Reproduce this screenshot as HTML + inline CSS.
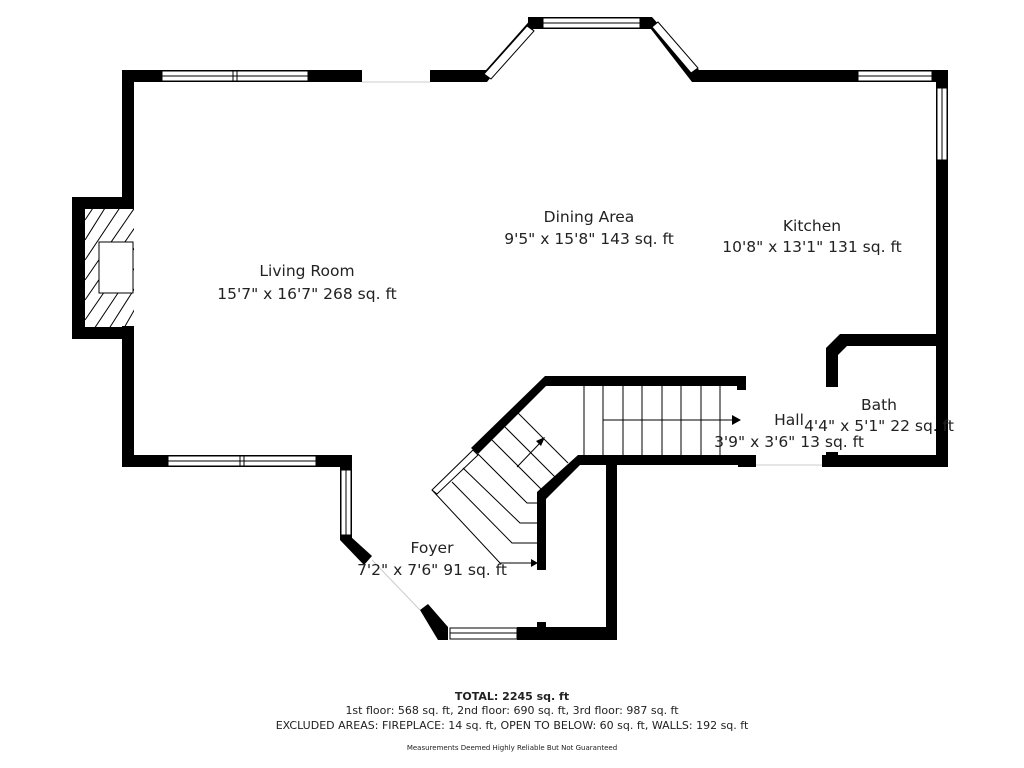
<!DOCTYPE html>
<html><head><meta charset="utf-8"><style>
body{margin:0;background:#fff;width:1024px;height:768px;overflow:hidden}
svg{display:block}
text{font-family:"DejaVu Sans","Liberation Sans",sans-serif;fill:#222}
</style></head><body>
<svg width="1024" height="768" viewBox="0 0 1024 768" xmlns="http://www.w3.org/2000/svg">
<g fill="#000">
<rect x="122" y="70" width="12" height="128"/>
<rect x="122" y="326" width="12" height="141"/>
<rect x="122" y="70" width="240" height="12"/>
<rect x="430" y="70" width="56" height="12"/>
<rect x="697" y="70" width="251" height="12"/>
<rect x="528" y="17" width="124" height="12"/>
<polygon points="480,82 486,70 533,17 538,24 491,77 487,82"/>
<polygon points="647,24 652,17 699,70 697,82 692,82"/>
<rect x="936" y="70" width="12" height="397"/>
<rect x="847" y="334" width="99" height="12"/>
<polygon points="847,334 847,346 838,355 826,355 826,348 840,334"/>
<rect x="826" y="350" width="12" height="37"/>
<rect x="826" y="452" width="12" height="15"/>
<rect x="822" y="455" width="126" height="12"/>
<rect x="738" y="455" width="18" height="12"/>
<rect x="545" y="376" width="201" height="10"/>
<rect x="737" y="376" width="9" height="14"/>
<polygon points="545,376 550,382 478,454 471,448"/>
<rect x="578" y="455" width="178" height="10"/>
<polygon points="578,455 584,461 546,499 537,495 537,492"/>
<rect x="537" y="492" width="9" height="78"/>
<rect x="537" y="622" width="9" height="18"/>
<rect x="606" y="460" width="11" height="180"/>
<rect x="517" y="627" width="100" height="13"/>
<rect x="122" y="455" width="230" height="12"/>
<rect x="340" y="455" width="12" height="85"/>
<polygon points="340,540 350,536 372,556 364,565"/>
<polygon points="420,610 428,604 448,627 448,640 438,640"/>
<rect x="72" y="197" width="62" height="12"/>
<rect x="72" y="327" width="62" height="12"/>
<rect x="72" y="197" width="13" height="142"/>
</g>
<defs><clipPath id="fc"><rect x="85" y="209" width="49" height="118"/></clipPath></defs>
<g clip-path="url(#fc)" stroke="#000" stroke-width="1">
<line x1="85" y1="240" x2="110" y2="200"/><line x1="85" y1="260" x2="125" y2="200"/>
<line x1="85" y1="280" x2="140" y2="200"/><line x1="85" y1="300" x2="140" y2="220"/>
<line x1="85" y1="320" x2="140" y2="240"/><line x1="90" y1="335" x2="140" y2="260"/>
<line x1="105" y1="335" x2="140" y2="280"/><line x1="120" y1="335" x2="140" y2="300"/>
<line x1="85" y1="220" x2="95" y2="205"/>
</g>
<rect x="99" y="242" width="34" height="51" fill="#fff" stroke="#000"/>
<g fill="#fff" stroke="#000" stroke-width="1">
<rect x="162" y="71" width="146" height="10"/><line x1="162" y1="76" x2="308" y2="76"/><line x1="233" y1="71" x2="233" y2="81"/><line x1="237" y1="71" x2="237" y2="81"/>
<rect x="543" y="18" width="97" height="10"/><line x1="543" y1="23" x2="640" y2="23"/>
<rect x="858" y="71" width="74" height="10"/><line x1="858" y1="76" x2="932" y2="76"/>
<rect x="937" y="88" width="10" height="72"/><line x1="942" y1="88" x2="942" y2="160"/>
<rect x="168" y="456" width="148" height="10"/><line x1="168" y1="461" x2="316" y2="461"/><line x1="240" y1="456" x2="240" y2="466"/><line x1="244" y1="456" x2="244" y2="466"/>
<rect x="341" y="470" width="10" height="65"/><line x1="346" y1="470" x2="346" y2="535"/>
<rect x="450" y="628" width="67" height="11"/><line x1="450" y1="633" x2="517" y2="633"/>
<polygon points="484,74 527,26 534,31 491,79"/>
<polygon points="652,27 658,22 698,68 691,73"/>
<polygon points="473,450 478,455 437,494 432,490"/>
</g>
<g stroke="#ccc" stroke-width="1">
<line x1="362" y1="82" x2="430" y2="82"/>
<line x1="372" y1="560" x2="420" y2="610"/>
<line x1="756" y1="465" x2="822" y2="465"/>
</g>
<g stroke="#000" stroke-width="1" fill="none">
<line x1="584" y1="386" x2="584" y2="455"/>
<line x1="603" y1="386" x2="603" y2="455"/><line x1="623" y1="386" x2="623" y2="455"/>
<line x1="642" y1="386" x2="642" y2="455"/><line x1="662" y1="386" x2="662" y2="455"/>
<line x1="681" y1="386" x2="681" y2="455"/><line x1="701" y1="386" x2="701" y2="455"/>
<line x1="720" y1="386" x2="720" y2="455"/>
<line x1="603" y1="420" x2="732" y2="420"/>
<line x1="518" y1="413" x2="568" y2="463"/>
<line x1="505" y1="427" x2="555" y2="477"/>
<line x1="492" y1="440" x2="542" y2="490"/>
<polyline points="478,454 527,503 537,503"/>
<polyline points="463,468 520,523 537,523"/>
<polyline points="452,482 512,543 537,543"/>
<polyline points="432,490 500,563 532,563"/>
<line x1="517" y1="467" x2="540" y2="443"/>
</g>
<polygon points="732,415 741,420 732,425" fill="#000"/>
<polygon points="536,441 545,437 541,446" fill="#000"/>
<polygon points="531,559 538,563 531,567" fill="#000"/>
<g font-size="15.5" text-anchor="middle">
<text x="307" y="276">Living Room</text>
<text x="307" y="299">15'7" x 16'7" 268 sq. ft</text>
<text x="589" y="222">Dining Area</text>
<text x="589" y="244">9'5" x 15'8" 143 sq. ft</text>
<text x="812" y="231">Kitchen</text>
<text x="812" y="252">10'8" x 13'1" 131 sq. ft</text>
<text x="789" y="425">Hall</text>
<text x="789" y="447">3'9" x 3'6" 13 sq. ft</text>
<text x="879" y="410">Bath</text>
<text x="879" y="431">4'4" x 5'1" 22 sq. ft</text>
<text x="432" y="553">Foyer</text>
<text x="432" y="575">7'2" x 7'6" 91 sq. ft</text>
</g>
<g font-size="11" text-anchor="middle">
<text x="512" y="700" font-weight="bold">TOTAL: 2245 sq. ft</text>
<text x="512" y="714">1st floor: 568 sq. ft, 2nd floor: 690 sq. ft, 3rd floor: 987 sq. ft</text>
<text x="512" y="729">EXCLUDED AREAS: FIREPLACE: 14 sq. ft, OPEN TO BELOW: 60 sq. ft, WALLS: 192 sq. ft</text>
<text x="512" y="750" font-size="7">Measurements Deemed Highly Reliable But Not Guaranteed</text>
</g>
</svg>
</body></html>
